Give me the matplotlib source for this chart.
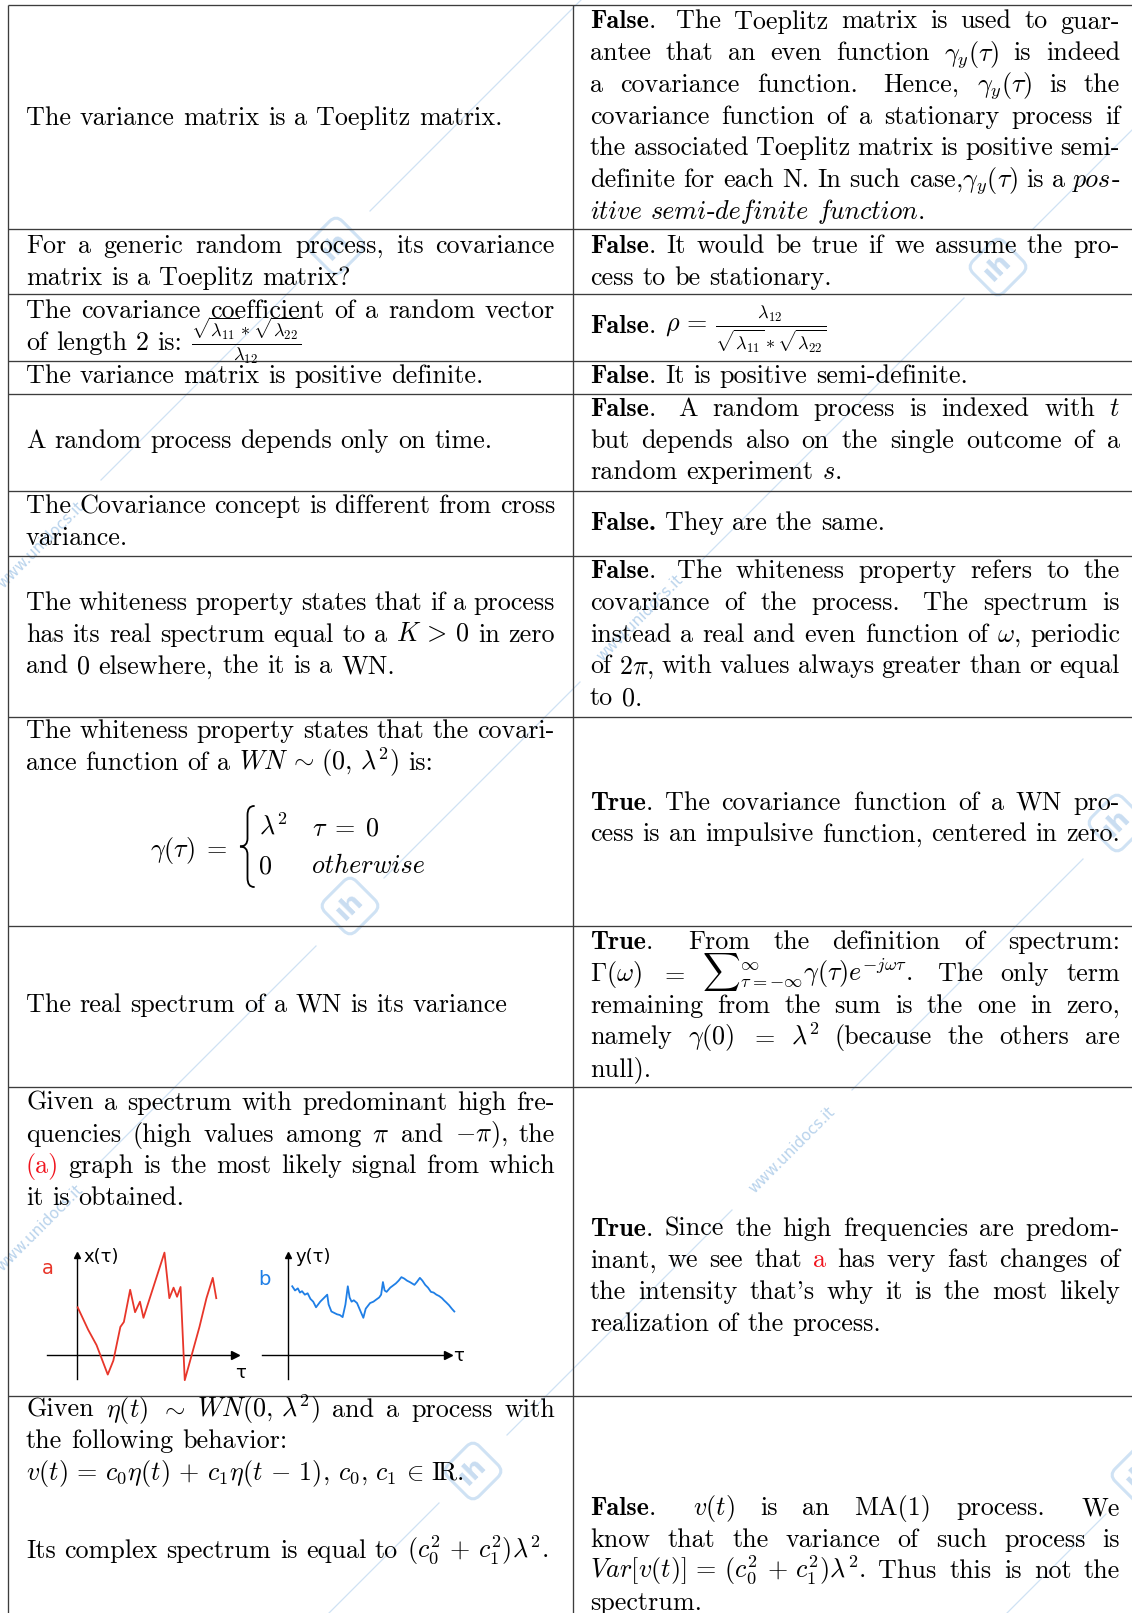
import matplotlib
matplotlib.use("Agg")
import matplotlib.pyplot as plt
from matplotlib.patches import FancyBboxPatch, PathPatch
from matplotlib.path import Path
from matplotlib.transforms import Affine2D

plt.rcParams['mathtext.fontset'] = 'cm'
plt.rcParams['font.family'] = 'cmr10'
plt.rcParams['axes.unicode_minus'] = False

W, H = 1132, 1613
FS = 18.8
EM = FS * 100 / 72
RED = '#f0141e'

# ---- table text (markup: **bold**, __italic__, %%red%%, | = ragged line)
questions = [
    [["The variance matrix is a Toeplitz matrix."]],
    [["For a generic random process, its covariance",
      "matrix is a Toeplitz matrix?"]],
    [["The covariance coefficient of a random vector",
      r"of length 2 is: $\frac{\sqrt{\lambda_{11}}*\sqrt{\lambda_{22}}}{\lambda_{12}}$"]],
    [["The variance matrix is positive definite."]],
    [["A random process depends only on time."]],
    [["The Covariance concept is different from cross",
      "variance."]],
    [["The whiteness property states that if a process",
      r"has its real spectrum equal to a $K\,>\,0$ in zero",
      "and 0 elsewhere, the it is a WN."]],
    [["The whiteness property states that the covari-",
      r"ance function of a $WN\,\sim\,(0,\,\lambda^2)$ is:"]],
    [["The real spectrum of a WN is its variance"]],
    [["Given a spectrum with predominant high fre-",
      r"quencies (high values among $\pi$ and $-\pi$), the",
      "%%(a)%% graph is the most likely signal from which",
      "it is obtained."]],
    [[r"Given $\eta(t)$ $\sim$ $WN(0,\,\lambda^2)$ and a process with",
      "the following behavior:|",
      r"$v(t)\,=\,c_0\eta(t)\,+\,c_1\eta(t\,-\,1)$, $c_0,\,c_1\,\in\,\mathrm{I\!R}$."],
     [r"Its complex spectrum is equal to $(c_0^2\,+\,c_1^2)\lambda^2$."]],
]

answers = [
    ["**False**.  The Toeplitz matrix is used to guar-",
     r"antee that an even function $\gamma_y(\tau)$ is indeed",
     r"a covariance function.  Hence, $\gamma_y(\tau)$ is the",
     "covariance function of a stationary process if",
     "the associated Toeplitz matrix is positive semi-",
     r"definite for each N. In such case,$\gamma_y(\tau)$ is a __pos-__",
     "__itive semi-definite function.__"],
    ["**False**. It would be true if we assume the pro-",
     "cess to be stationary."],
    [r"**False**. $\rho\,=\,\frac{\lambda_{12}}{\sqrt{\lambda_{11}}*\sqrt{\lambda_{22}}}$"],
    ["**False**. It is positive semi-definite."],
    [r"**False**.  A random process is indexed with $t$",
     "but depends also on the single outcome of a",
     r"random experiment $s$."],
    ["**False.** They are the same."],
    ["**False**.  The whiteness property refers to the",
     "covariance of the process.  The spectrum is",
     r"instead a real and even function of $\omega$, periodic",
     r"of $2\pi$, with values always greater than or equal",
     "to 0."],
    ["**True**. The covariance function of a WN pro-",
     "cess is an impulsive function, centered in zero."],
    ["**True**.  From the definition of spectrum:",
     r"$\Gamma(\omega)$ $=$ ${\sum}_{\tau=-\infty}^{\infty}\gamma(\tau)e^{-j\omega\tau}$.  The only term",
     "remaining from the sum is the one in zero,",
     r"namely $\gamma(0)$ $=$ $\lambda^2$ (because the others are",
     "null)."],
    ["**True**. Since the high frequencies are predom-",
     "inant, we see that %%a%% has very fast changes of",
     "the intensity that's why it is the most likely",
     "realization of the process."],
    ["**False**.  $v(t)$ is an MA(1) process.  We",
     "know that the variance of such process is",
     r"$Var[v(t)]\,=\,(c_0^2\,+\,c_1^2)\lambda^2$. Thus this is not the",
     "spectrum."],
]

# sketch (a): fast signal x(tau), sketch (b): slow signal y(tau)
a_t = [0.05, 0.8, 1.4, 2.2, 2.6, 3.1, 3.35, 3.8, 4.15, 4.5, 4.75, 6.25,
       6.6, 6.9, 7.15, 7.4, 7.7, 8.1, 8.75, 9.25, 9.7, 9.95]
a_v = [3.4, 1.8, 0.7, -1.4, -0.4, 2.0, 2.35, 4.65, 3.05, 3.8, 2.65, 7.3,
       4.05, 4.8, 4.15, 4.85, -1.8, -0.35, 2.0, 4.05, 5.5, 4.05]
b_t = [0.3, 0.5, 0.7, 0.85, 1.0, 1.2, 1.4, 1.6, 1.8, 2.0, 2.3, 2.6, 2.8, 2.9, 3.1,
       3.3, 3.5, 3.7, 3.9, 4.1, 4.27, 4.4, 4.54, 4.7, 4.93, 5.1, 5.38, 5.55, 5.86, 6.1,
       6.3, 6.51, 6.65, 6.78, 6.9, 7.04, 7.3, 7.5, 7.7, 7.9, 8.1, 8.3, 8.5, 8.7, 9.03,
       9.2, 9.42, 9.6, 9.8, 10.0, 10.21, 10.4, 10.6, 10.8, 11.0, 11.14, 11.3, 11.5, 11.7, 11.88]
b_v = [4.9, 4.6, 4.75, 4.45, 4.55, 4.3, 4.4, 4.0, 3.8, 3.4, 3.8, 4.1, 4.3, 3.6, 3.1,
       3.0, 2.9, 2.85, 2.7, 3.6, 4.9, 4.1, 3.8, 3.9, 3.7, 3.3, 2.65, 3.3, 3.7, 3.8,
       3.95, 4.1, 4.3, 5.2, 4.6, 4.5, 4.8, 4.95, 5.1, 5.3, 5.55, 5.45, 5.3, 5.2, 5.0,
       5.2, 5.5, 5.3, 5.0, 4.8, 4.5, 4.45, 4.3, 4.2, 4.05, 3.9, 3.75, 3.55, 3.3, 3.1]

# ---- layout (pixels)
row_edges = [5, 229, 294, 361, 394, 491, 556, 717, 926, 1087, 1396]
x_left, x_mid = 8, 573
LX0, LX1 = 26, 555
RX0, RX1 = 590, 1120
STEP = 31.7
q_base = [[125], [253.3], [318.3], [383.3], [448.3], [513.3], [610], [738.3],
          [1011.7], [1110], [1416.7, 1558.3]]
a_base = [28.5, 253, 333, 383, 416, 530, 578.3, 809.7, 949.3, 1235.7, 1515]

WM = '#cfe2f4'
wm_lines = [581, 1262, 1942, 2620]
wm_logos = [(336, 246), (998, 267), (350, 906), (1117, 823), (473, 1471), (1140, 1475)]
wm_texts = [(41, 545), (640, 618), (40, 1228), (792, 1150)]

fig = plt.figure(figsize=(W / 100, H / 100), dpi=100)
ax = fig.add_axes([0, 0, 1, 1])
ax.set_xlim(0, W)
ax.set_ylim(H, 0)
ax.axis('off')
renderer = fig.canvas.get_renderer()

# ---- watermark
for c in wm_lines:
    xa, xb = max(0, c - H), min(W, c)
    cuts = sorted([(x - 34, x + 34) for x, y in wm_logos if abs(x + y - c) < 30] +
                  [(x - 60, x + 60) for x, y in wm_texts if abs(x + y - c) < 30])
    x = xa
    for g0, g1 in cuts:
        if g0 > x:
            ax.plot([x, g0], [c - x, c - g0], color=WM, lw=0.9, zorder=0)
        x = max(x, g1)
    if x < xb:
        ax.plot([x, xb], [c - x, c - xb], color=WM, lw=0.9, zorder=0)
for cx, cy in wm_logos:
    tr = Affine2D().rotate_deg(45).translate(cx, cy) + ax.transData
    ax.add_patch(FancyBboxPatch((-22, -22), 44, 44, boxstyle='round,pad=0,rounding_size=9',
                                fill=False, ec=WM, lw=2.2, transform=tr, zorder=0))
    ax.text(cx, cy, 'ıh', rotation=45, ha='center', va='center', fontsize=19,
            family='DejaVu Sans', fontweight='bold', color='#c9ddf1', zorder=0)
for cx, cy in wm_texts:
    ax.text(cx, cy, 'www.unidocs.it', rotation=45, ha='center', va='center',
            fontsize=11, family='DejaVu Sans', color='#b9d3ec', zorder=0)

# ---- grid
for y in row_edges:
    ax.plot([x_left, W], [y, y], color='#3c3c3c', lw=0.95, solid_capstyle='butt')
for x in (x_left, x_mid):
    ax.plot([x, x], [row_edges[0], H], color='#3c3c3c', lw=0.95, solid_capstyle='butt')


def parse_word(word, st):
    segs, buf, i = [], '', 0
    marks = {'**': 'b', '__': 'i', '%%': 'red'}
    while i < len(word):
        two = word[i:i + 2]
        if two in marks:
            if buf:
                segs.append((buf, dict(st)))
                buf = ''
            st[marks[two]] = not st[marks[two]]
            i += 2
        else:
            buf += word[i]
            i += 1
    if buf:
        segs.append((buf, dict(st)))
    out = []
    for txt, s in segs:
        if s['i']:
            run, kind = '', None
            for ch in txt:
                k = ch.isalpha()
                if kind is not None and k != kind:
                    out.append((run, dict(s, i=kind)))
                    run = ''
                run += ch
                kind = k
            if run:
                out.append((run, dict(s, i=kind)))
        else:
            out.append((txt, s))
    return out


def make_text(txt, s):
    fam = 'cmmi10' if s['i'] else ('cmb10' if s['b'] else 'cmr10')
    return ax.text(0, 0, txt, fontsize=FS, family=fam, color=RED if s['red'] else 'black',
                   ha='left', va='baseline', zorder=3)


def draw_line(line, st, x0, x1, y, justify):
    if line.endswith('|'):
        line, justify = line[:-1], False
    words, gaps, extra = [], [], False
    for tok in line.split(' '):
        if tok == '':
            extra = True
            continue
        if words:
            gaps.append(1.5 if extra else 1.0)
        words.append([make_text(t, s) for t, s in parse_word(tok, st)])
        extra = False
    widths = [[o.get_window_extent(renderer).width for o in w] for w in words]
    total = sum(sum(w) for w in widths)
    unit = EM / 3
    if justify and gaps:
        unit = (x1 - x0 - total) / sum(gaps)
    x = x0
    for i, (objs, ws) in enumerate(zip(words, widths)):
        for o, ww in zip(objs, ws):
            o.set_position((x, y))
            x += ww
        if i < len(gaps):
            x += unit * gaps[i]


def draw_block(lines, x0, x1, y0):
    st = {'b': False, 'i': False, 'red': False}
    for k, line in enumerate(lines):
        draw_line(line, st, x0, x1, y0 + k * STEP, k < len(lines) - 1)


for blocks, bases in zip(questions, q_base):
    for lines, y0 in zip(blocks, bases):
        draw_block(lines, LX0, LX1, y0)
for lines, y0 in zip(answers, a_base):
    draw_block(lines, RX0, RX1, y0)

# piecewise covariance in row 8
ax.text(150, 856.7, r'$\gamma(\tau)\;=$', fontsize=FS, ha='left', va='baseline')
bx0, bx1, by0, by1 = 240, 254, 806, 887
ym, xm = (by0 + by1) / 2, 247.5
brace = Path([(bx1, by0), (xm, by0), (xm, by0 + 9), (xm, ym - 8), (xm, ym), (bx0, ym),
              (xm, ym), (xm, ym + 8), (xm, by1 - 9), (xm, by1), (bx1, by1)],
             [Path.MOVETO, Path.CURVE3, Path.CURVE3, Path.LINETO, Path.CURVE3, Path.CURVE3,
              Path.CURVE3, Path.CURVE3, Path.LINETO, Path.CURVE3, Path.CURVE3])
ax.add_patch(PathPatch(brace, fill=False, lw=1.3, ec='black', capstyle='round'))
ax.text(259, 835, r'$\lambda^2$', fontsize=FS, ha='left', va='baseline')
ax.text(258, 873, r'$0$', fontsize=FS, ha='left', va='baseline')
ax.text(312, 835, r'$\tau\;=\;0$', fontsize=FS, ha='left', va='baseline')
ax.text(312, 873, 'otherwise', fontsize=FS, family='cmmi10', ha='left', va='baseline')


# ---- hand sketches
def sketch(rect, xlim, t, v, col, name, lab, x_end, lab_xy, tau_xy):
    sa = fig.add_axes([rect[0] / W, 1 - (rect[1] + rect[3]) / H, rect[2] / W, rect[3] / H])
    sa.set_xlim(*xlim)
    sa.set_ylim(-2.5, 8.2)
    sa.axis('off')
    sa.patch.set_alpha(0)
    sa.plot([xlim[0] + 0.5, x_end], [0, 0], color='black', lw=1.0)
    sa.plot([0, 0], [-1.7, 7.1], color='black', lw=1.0)
    sa.plot([x_end], [0], marker='>', color='black', ms=6)
    sa.plot([0], [7.1], marker='^', color='black', ms=5)
    sa.plot(t, v, color=col, lw=1.3)
    sa.text(lab_xy[0], lab_xy[1], name, color=col, fontsize=14, family='DejaVu Sans',
            ha='center', va='center')
    sa.text(0.5, 7.0, lab, fontsize=13, family='DejaVu Sans', ha='left', va='center')
    sa.text(tau_xy[0], tau_xy[1], 'τ', fontsize=13, family='DejaVu Sans', ha='center', va='center')


sketch((40, 1240, 210, 150), (-2.64, 12.36), a_t, a_v, '#e8362a', 'a', 'x(τ)', 11.3,
       (-2.1, 6.2), (11.7, -1.3))
sketch((255, 1240, 215, 150), (-2.36, 13.0), b_t, b_v, '#1f7fe6', 'b', 'y(τ)', 11.4,
       (-1.7, 5.4), (12.2, -0.1))

fig.savefig('out.png', dpi=100)
